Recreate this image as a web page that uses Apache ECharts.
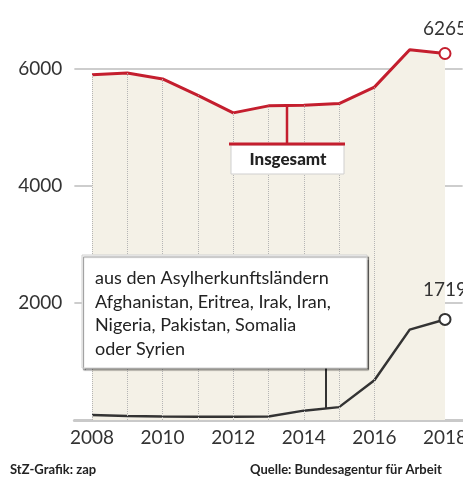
<!DOCTYPE html>
<html><head><meta charset="utf-8">
<script src="https://cdn.jsdelivr.net/npm/echarts@6/dist/echarts.min.js"></script>
<style>html,body{margin:0;padding:0;background:#fff;overflow:hidden}#c{width:463px;height:478px}</style>
</head><body><div id="c"></div>
<script>
const years = ['2008','2009','2010','2011','2012','2013','2014','2015','2016','2017','2018'];
const totalValues = [5900, 5930, 5830, 5550, 5250, 5370, 5380, 5410, 5690, 6330, 6265];
const asylumValues = [85, 70, 60, 55, 55, 60, 160, 220, 680, 1545, 1719];
const yTicks = [0, 2000, 4000, 6000];

const FONT = 'Lato, "Open Sans", sans-serif';
const chart = echarts.init(document.getElementById('c'), null, {renderer:'canvas', width:463, height:478});
const last = years.length - 1;

const dotted = years.map((y, i) => [{coord:[y, 0]}, {coord:[y, totalValues[i]]}]);

chart.setOption({
  animation:false,
  grid:{left:74.35, right:0.35, top:69, bottom:58, containLabel:false, outerBoundsMode:'none'},
  xAxis:{type:'category', data:years, boundaryGap:true,
    axisLine:{lineStyle:{color:'#c9c9c9', width:3}},
    axisTick:{show:false},
    axisLabel:{interval:1, color:'#333', fontFamily:FONT, fontSize:19, margin:8, hideOverlap:false}},
  yAxis:{type:'value', min:yTicks[0], max:yTicks[yTicks.length-1], interval:2000,
    axisLine:{show:false}, axisTick:{show:false},
    axisLabel:{showMinLabel:false, color:'#333', fontFamily:FONT, fontSize:19, margin:12, formatter:v=>String(v)},
    splitLine:{showMinLine:false, lineStyle:{color:'#bdbdbd', width:1.5}}},
  series:[
    {type:'line', data:totalValues, clip:false, z:3,
      symbol:'emptyCircle', symbolSize:(v,p)=>p.dataIndex===last?11:0,
      lineStyle:{color:'#c41e2e', width:3}, itemStyle:{color:'#c41e2e', borderWidth:2.5},
      areaStyle:{color:'#f4f1e7', opacity:1, origin:'start'},
      label:{show:true, position:'top', distance:9, color:'#333', fontFamily:FONT, fontSize:19,
        formatter:p=>p.dataIndex===last?String(p.value):''},
      markLine:{silent:true, symbol:'none', label:{show:false},
        lineStyle:{color:'#b5b5b5', type:'dotted', width:1}, data:dotted}},
    {type:'line', data:asylumValues, clip:false, z:4,
      symbol:'emptyCircle', symbolSize:(v,p)=>p.dataIndex===last?11:0,
      lineStyle:{color:'#333', width:2.5}, itemStyle:{color:'#333', borderWidth:2},
      label:{show:true, position:'top', distance:14, color:'#333', fontFamily:FONT, fontSize:19,
        formatter:p=>p.dataIndex===last?String(p.value):''}}
  ],
  graphic:[
    {type:'line', z:10, shape:{x1:287, y1:104, x2:287, y2:144}, style:{stroke:'#c41e2e', lineWidth:2.5}},
    {type:'rect', z:10, shape:{x:231, y:145, width:113, height:29}, style:{fill:'#fff', stroke:'#cfcfcf', lineWidth:1}},
    {type:'line', z:11, shape:{x1:229, y1:144, x2:345, y2:144}, style:{stroke:'#c41e2e', lineWidth:3}},
    {type:'text', z:11, x:288, y:160, style:{text:'Insgesamt', fill:'#222', font:'900 17px '+FONT, align:'center', verticalAlign:'middle'}},
    {type:'line', z:10, shape:{x1:326, y1:368, x2:326, y2:408}, style:{stroke:'#333', lineWidth:2}},
    {type:'rect', z:10, shape:{x:82, y:255, width:285, height:113},
      style:{fill:'#fff', stroke:'#d0d0d0', lineWidth:1, shadowColor:'rgba(0,0,0,0.45)', shadowOffsetX:1.5, shadowOffsetY:2, shadowBlur:1}},
    {type:'text', z:11, x:95, y:278, style:{text:'aus den Asylherkunftsländern', fill:'#222', font:'18px '+FONT, verticalAlign:'middle'}},
    {type:'text', z:11, x:95, y:302, style:{text:'Afghanistan, Eritrea, Irak, Iran,', fill:'#222', font:'18px '+FONT, verticalAlign:'middle'}},
    {type:'text', z:11, x:95, y:325, style:{text:'Nigeria, Pakistan, Somalia', fill:'#222', font:'18px '+FONT, verticalAlign:'middle'}},
    {type:'text', z:11, x:95, y:349, style:{text:'oder Syrien', fill:'#222', font:'18px '+FONT, verticalAlign:'middle'}},
    {type:'text', x:10, y:470, style:{text:'StZ-Grafik: zap', fill:'#222', font:'bold 13px '+FONT, verticalAlign:'middle'}},
    {type:'text', x:250, y:470, style:{text:'Quelle: Bundesagentur für Arbeit', fill:'#222', font:'bold 13px '+FONT, verticalAlign:'middle'}}
  ]
});
</script></body></html>
